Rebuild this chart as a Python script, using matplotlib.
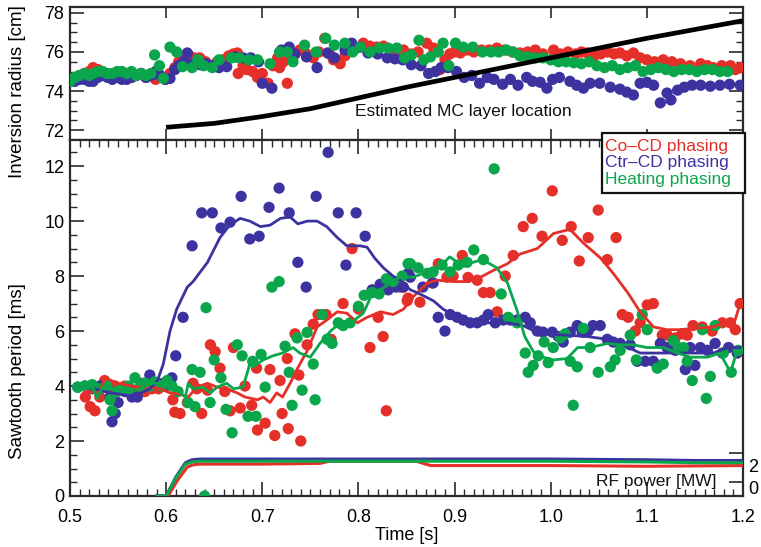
import numpy as np
import matplotlib
matplotlib.use("Agg")
import matplotlib.pyplot as plt
import matplotlib.transforms as mtrans
from matplotlib.patches import Rectangle
from matplotlib.ticker import MultipleLocator, FixedLocator

plt.rcParams['font.family'] = ['Liberation Sans', 'DejaVu Sans']

RED = '#e5302a'
BLUE = '#3d33a0'
GREEN = '#0aa64c'

# ---------------- Inversion radius (top panel) [t (s), r (cm)] ----------------
co_radius = [(0.500,74.5),(0.505,74.6),(0.510,74.8),(0.515,74.9),(0.520,75.0),(0.524,75.2),(0.529,75.1),(0.534,74.9),(0.539,74.8),(0.544,74.8),(0.549,74.7),(0.554,74.9),(0.559,74.8),(0.564,74.7),(0.569,74.8),(0.574,74.9),(0.579,74.7),(0.584,74.8),(0.589,74.6),(0.594,74.7),(0.599,74.6),
(0.604,74.9),(0.609,75.2),(0.613,75.5),(0.618,75.6),(0.624,75.8),(0.629,75.7),(0.635,75.7),(0.641,75.5),(0.647,75.3),(0.653,75.5),(0.659,75.6),(0.665,75.8),(0.670,75.9),(0.674,75.95),(0.675,74.9),(0.680,75.3),(0.684,75.1),(0.690,75.0),(0.695,74.7),(0.700,74.9),(0.706,74.4),(0.711,75.3),(0.716,75.7),(0.718,75.2),(0.722,75.5),(0.726,74.4),(0.729,75.7),(0.734,75.9),(0.739,76.1),(0.746,75.9),(0.753,75.7),(0.759,76.0),(0.765,76.7),(0.770,75.9),(0.774,75.6),(0.781,75.4),(0.786,75.8),(0.791,76.1),(0.798,76.2),(0.805,76.45),(0.812,76.3),(0.819,76.25),(0.826,76.3),(0.833,76.1),(0.840,76.0),(0.847,76.1),(0.855,75.9),(0.862,76.0),(0.871,76.45),(0.878,76.2),(0.885,75.1),(0.890,75.6),(0.895,75.9),(0.900,76.0),(0.906,75.95),(0.913,76.1),(0.920,76.0),(0.928,76.1),(0.936,76.1),(0.944,76.2),(0.952,76.1),(0.960,76.0),(0.968,75.95),(0.976,76.0),(0.984,76.1),(0.992,75.9),(1.003,76.1),(1.010,75.9),(1.018,76.0),(1.026,75.9),(1.032,76.0),(1.038,75.95),(1.045,75.8),(1.052,75.9),(1.059,76.0),(1.066,75.9),(1.072,75.95),(1.079,75.8),(1.086,75.95),(1.093,75.7),(1.100,75.6),(1.108,75.5),(1.117,75.6),(1.126,75.5),(1.135,75.4),(1.145,75.3),(1.156,75.4),(1.163,75.3),(1.169,75.2),(1.178,75.3),(1.187,75.3),(1.192,75.1),(1.197,75.2)]

ctr_radius = [(0.500,74.5),(0.505,74.5),(0.510,74.6),(0.515,74.6),(0.520,74.5),(0.524,74.5),(0.529,74.7),(0.534,74.8),(0.539,74.7),(0.544,74.6),(0.549,74.7),(0.554,74.6),(0.559,74.6),(0.564,74.7),(0.569,74.8),(0.574,74.9),(0.579,74.7),(0.584,74.8),(0.589,75.0),(0.594,74.8),(0.599,74.6),
(0.604,74.65),(0.609,75.1),(0.613,75.3),(0.618,75.5),(0.622,75.95),(0.627,75.4),(0.635,75.35),(0.642,75.4),(0.648,75.3),(0.655,75.2),(0.663,75.25),(0.672,75.75),(0.680,75.7),(0.688,75.7),(0.696,75.5),(0.700,74.4),(0.710,74.15),(0.720,76.1),(0.728,76.25),(0.734,75.9),(0.746,75.75),(0.757,75.2),(0.768,75.95),(0.775,75.7),(0.786,76.1),(0.793,76.45),(0.802,76.25),(0.810,75.95),(0.820,75.9),(0.830,75.7),(0.838,75.65),(0.846,75.6),(0.855,75.35),(0.865,75.3),(0.873,74.9),(0.880,75.0),(0.886,75.2),(0.893,75.2),(0.902,75.0),(0.910,74.7),(0.918,74.8),(0.926,74.4),(0.934,74.7),(0.941,74.6),(0.950,74.35),(0.958,74.6),(0.966,74.3),(0.975,74.7),(0.981,74.5),(0.989,74.45),(0.996,74.15),(1.002,74.6),(1.009,74.7),(1.020,74.5),(1.027,74.3),(1.034,74.15),(1.041,74.4),(1.051,74.4),(1.062,74.2),(1.072,74.1),(1.079,73.95),(1.086,73.8),(1.093,74.4),(1.100,74.45),(1.107,74.3),(1.114,73.4),(1.121,73.9),(1.125,73.55),(1.132,74.05),(1.139,74.2),(1.147,74.3),(1.156,74.3),(1.166,74.25),(1.176,74.3),(1.186,74.35),(1.197,74.3)]

heat_radius = [(0.500,74.5),(0.505,74.7),(0.510,74.8),(0.515,74.9),(0.520,74.8),(0.524,74.9),(0.529,75.0),(0.534,75.0),(0.539,74.9),(0.544,74.9),(0.549,75.0),(0.554,75.0),(0.559,74.9),(0.564,75.0),(0.569,74.8),(0.574,74.9),(0.579,74.8),(0.584,74.9),(0.588,75.85),(0.593,75.3),(0.597,74.65),(0.604,76.25),(0.611,76.0),(0.617,75.25),(0.627,75.2),(0.633,75.6),(0.639,75.3),(0.648,75.2),(0.655,75.6),(0.668,75.7),(0.676,75.7),(0.686,75.6),(0.695,75.6),(0.708,75.4),(0.718,76.0),(0.726,76.0),(0.732,75.5),(0.744,76.35),(0.756,76.0),(0.766,76.7),(0.775,76.35),(0.786,76.45),(0.794,76.0),(0.802,76.25),(0.812,76.0),(0.822,76.2),(0.831,76.2),(0.840,76.2),(0.848,75.7),(0.855,75.85),(0.863,76.6),(0.868,75.6),(0.875,75.75),(0.883,76.0),(0.888,76.45),(0.894,75.3),(0.901,76.45),(0.909,76.25),(0.919,76.25),(0.929,76.0),(0.938,76.0),(0.946,76.0),(0.954,76.1),(0.961,76.0),(0.968,75.8),(0.976,75.75),(0.984,75.7),(0.992,75.7),(1.000,75.6),(1.008,75.5),(1.016,75.5),(1.024,75.45),(1.032,75.4),(1.040,75.5),(1.048,75.3),(1.056,75.2),(1.064,75.3),(1.072,75.1),(1.080,75.2),(1.088,75.3),(1.096,75.0),(1.104,75.1),(1.112,75.2),(1.120,75.1),(1.128,75.0),(1.136,75.1),(1.144,75.1),(1.152,75.0),(1.160,75.1),(1.168,75.1),(1.176,75.0),(1.184,75.0)]

mc_time = [0.60, 0.65, 0.70, 0.75, 0.80, 0.85, 0.90, 0.95, 1.00, 1.05, 1.10, 1.15, 1.20]
mc_radius = [72.15, 72.35, 72.7, 73.1, 73.65, 74.2, 74.7, 75.2, 75.7, 76.2, 76.7, 77.15, 77.6]

# ---------------- Sawtooth period (bottom panel) [t (s), period (ms)] ----------------
co_period = [(0.516,3.6),(0.521,3.25),(0.526,3.1),(0.531,3.6),(0.536,4.2),(0.542,3.9),(0.547,4.0),(0.553,3.9),(0.557,4.0),(0.565,3.85),(0.573,3.85),(0.578,3.8),(0.585,3.9),(0.592,3.9),(0.597,4.1),(0.602,4.1),(0.607,3.5),(0.609,3.05),(0.6145,3.0),(0.622,3.4),(0.628,4.1),(0.632,3.9),(0.637,3.0),(0.643,3.85),(0.646,5.5),(0.651,5.25),(0.656,4.65),(0.661,3.8),(0.6665,3.1),(0.670,5.4),(0.677,3.2),(0.682,4.0),(0.689,3.3),(0.695,2.4),(0.694,4.65),(0.703,2.65),(0.708,4.6),(0.713,2.2),(0.7185,4.2),(0.7206,3.0),(0.727,2.45),(0.726,5.0),(0.734,5.9),(0.738,4.4),(0.740,2.0),(0.7466,5.5),(0.753,6.25),(0.758,6.6),(0.7664,6.6),(0.7716,5.7),(0.784,7.0),(0.7934,9.0),(0.800,6.8),(0.812,5.4),(0.8205,6.5),(0.8257,5.8),(0.829,3.1),(0.8434,7.6),(0.8465,7.6),(0.8507,7.1),(0.8517,7.2),(0.864,7.05),(0.8767,7.75),(0.883,8.45),(0.892,7.96),(0.8985,8.0),(0.908,8.75),(0.914,7.95),(0.9235,7.85),(0.930,7.4),(0.937,7.4),(0.9443,6.7),(0.9527,8.0),(0.961,8.75),(0.9714,9.8),(0.9808,10.1),(0.991,9.45),(1.0016,11.1),(1.012,9.3),(1.0213,9.8),(1.0297,8.55),(1.039,9.4),(1.0494,10.4),(1.0588,8.6),(1.068,9.4),(1.0744,6.6),(1.0806,6.5),(1.088,6.0),(1.0931,6.3),(1.1004,6.95),(1.1067,7.0),(1.116,5.85),(1.1212,5.85),(1.1296,5.75),(1.1368,5.9),(1.142,5.85),(1.148,6.2),(1.1577,6.15),(1.168,6.0),(1.1785,6.3),(1.1868,6.3),(1.192,6.05),(1.197,7.0)]

ctr_period = [(0.508,3.96),(0.5156,4.0),(0.523,3.9),(0.531,4.0),(0.5416,3.6),(0.5437,2.7),(0.547,3.0),(0.550,3.4),(0.557,3.8),(0.5645,3.6),(0.570,3.6),(0.576,4.1),(0.583,4.4),(0.5916,4.1),(0.599,4.0),(0.606,4.3),(0.610,5.1),(0.6176,6.5),(0.627,9.1),(0.637,10.3),(0.648,10.3),(0.657,9.75),(0.6665,9.96),(0.678,10.9),(0.687,9.35),(0.6967,9.45),(0.707,10.5),(0.7175,11.2),(0.728,10.3),(0.737,8.5),(0.7456,7.6),(0.756,10.9),(0.7685,12.5),(0.779,10.3),(0.787,8.4),(0.7976,10.3),(0.807,9.45),(0.8143,7.5),(0.8226,7.7),(0.831,7.5),(0.839,7.6),(0.8465,7.6),(0.8517,8.1),(0.854,7.96),(0.867,7.6),(0.8777,7.75),(0.883,6.5),(0.890,6.0),(0.8954,6.6),(0.9027,6.5),(0.909,6.4),(0.9162,6.3),(0.9235,6.3),(0.930,6.4),(0.935,6.6),(0.9423,6.3),(0.9506,6.4),(0.958,6.4),(0.965,6.4),(0.9735,6.5),(0.9787,6.3),(0.986,6.0),(0.992,5.96),(1.0016,5.96),(1.008,5.8),(1.013,5.6),(1.0203,5.96),(1.0276,6.2),(1.0328,5.96),(1.039,6.0),(1.044,6.2),(1.0515,6.2),(1.0588,5.7),(1.065,5.6),(1.0723,5.55),(1.0827,5.5),(1.090,4.9),(1.0983,4.9),(1.1067,4.9),(1.114,5.55),(1.121,5.4),(1.1296,5.3),(1.140,4.6),(1.145,5.4),(1.150,4.75),(1.1556,5.4),(1.163,5.3),(1.171,5.55),(1.1785,5.2),(1.185,5.4),(1.194,5.2)]

heat_period = [(0.508,3.96),(0.515,4.0),(0.523,4.05),(0.531,3.9),(0.5385,4.0),(0.5416,3.5),(0.5437,3.1),(0.549,3.8),(0.554,3.9),(0.561,4.0),(0.5676,4.3),(0.573,4.0),(0.578,4.1),(0.583,4.0),(0.588,4.15),(0.595,4.0),(0.601,4.2),(0.606,4.0),(0.6124,3.8),(0.6228,3.4),(0.627,4.6),(0.630,3.25),(0.6353,4.5),(0.640,0.0),(0.6415,6.85),(0.6457,3.4),(0.650,4.95),(0.657,4.3),(0.6623,3.15),(0.6686,2.3),(0.674,5.5),(0.679,5.1),(0.6852,2.9),(0.690,4.9),(0.6935,2.9),(0.6988,5.15),(0.703,3.96),(0.710,7.6),(0.7175,7.8),(0.7237,5.45),(0.728,4.5),(0.731,3.3),(0.7362,5.75),(0.7414,3.85),(0.7466,5.95),(0.753,4.8),(0.755,3.5),(0.7622,6.6),(0.7674,5.7),(0.7726,5.55),(0.779,6.3),(0.784,6.2),(0.7914,6.3),(0.800,6.9),(0.806,7.3),(0.8143,7.4),(0.8215,7.35),(0.829,7.9),(0.836,7.8),(0.8455,8.0),(0.8517,8.45),(0.854,8.45),(0.862,8.3),(0.8715,8.1),(0.8777,8.15),(0.887,8.4),(0.8954,8.15),(0.9037,8.4),(0.913,8.5),(0.920,8.95),(0.930,8.6),(0.9412,11.9),(0.9485,7.35),(0.9558,6.5),(0.965,6.3),(0.9735,5.2),(0.9766,4.5),(0.9818,4.75),(0.987,5.1),(0.9932,5.6),(0.9974,4.85),(1.0026,5.4),(1.010,5.75),(1.015,5.9),(1.0203,4.9),(1.0234,3.3),(1.0276,4.7),(1.0338,6.1),(1.041,5.4),(1.0494,4.5),(1.062,4.7),(1.067,4.95),(1.0723,5.3),(1.0827,5.85),(1.089,4.95),(1.0952,6.6),(1.1004,6.05),(1.1108,4.65),(1.117,4.8),(1.1275,5.65),(1.1327,5.4),(1.138,5.4),(1.142,4.9),(1.1472,4.2),(1.1577,6.05),(1.1618,3.55),(1.166,4.35),(1.171,6.2),(1.1795,5.2),(1.1878,4.5),(1.195,5.3)]

# smoothed sawtooth period traces
co_smooth = [(0.516,3.8),(0.531,3.75),(0.536,4.3),(0.550,4.1),(0.570,3.96),(0.583,3.96),(0.594,3.9),(0.604,3.75),(0.615,3.7),(0.623,3.6),(0.632,3.96),(0.643,4.1),(0.653,3.96),(0.663,3.9),(0.674,3.75),(0.682,3.6),(0.695,3.5),(0.701,3.6),(0.708,3.4),(0.715,3.75),(0.721,3.6),(0.729,4.1),(0.736,4.6),(0.747,5.3),(0.757,6.15),(0.767,6.4),(0.778,6.7),(0.788,6.65),(0.799,6.3),(0.809,6.5),(0.823,6.7),(0.836,6.6),(0.847,6.8),(0.857,7.25),(0.872,7.75),(0.882,7.85),(0.899,7.8),(0.913,7.8),(0.927,7.96),(0.940,8.2),(0.955,8.45),(0.968,8.8),(0.986,9.0),(1.003,9.55),(1.020,9.7),(1.034,9.2),(1.052,8.65),(1.065,8.1),(1.080,7.4),(1.093,6.7),(1.107,6.15),(1.121,6.05),(1.135,6.05),(1.148,6.1),(1.169,6.15),(1.180,6.3),(1.190,6.2),(1.197,7.0)]

ctr_smooth = [(0.508,4.0),(0.521,3.95),(0.536,3.8),(0.552,3.7),(0.568,3.65),(0.583,3.9),(0.591,4.2),(0.597,4.8),(0.604,6.0),(0.611,6.8),(0.622,7.6),(0.628,7.8),(0.643,8.5),(0.656,9.4),(0.666,9.85),(0.677,10.1),(0.687,10.0),(0.698,9.8),(0.708,9.85),(0.719,10.1),(0.729,10.15),(0.737,9.9),(0.747,10.0),(0.757,10.0),(0.767,9.8),(0.778,9.4),(0.788,9.1),(0.802,9.1),(0.809,9.05),(0.817,8.65),(0.826,8.3),(0.836,8.0),(0.843,7.85),(0.854,7.5),(0.861,7.4),(0.878,7.1),(0.888,6.8),(0.903,6.5),(0.916,6.4),(0.934,6.3),(0.955,6.3),(0.971,6.2),(0.989,5.9),(1.017,5.85),(1.038,5.8),(1.059,5.7),(1.075,5.5),(1.093,5.2),(1.114,5.2),(1.135,5.2),(1.156,5.2),(1.169,5.2),(1.184,5.4),(1.197,5.4)]

heat_smooth = [(0.507,4.0),(0.524,3.95),(0.528,3.55),(0.534,3.96),(0.549,3.85),(0.562,3.75),(0.576,3.96),(0.586,4.1),(0.601,4.1),(0.611,3.85),(0.620,3.6),(0.623,4.1),(0.628,3.9),(0.638,3.96),(0.646,3.75),(0.653,3.96),(0.663,4.1),(0.670,3.9),(0.680,3.96),(0.687,4.8),(0.690,4.7),(0.701,4.95),(0.711,5.1),(0.721,5.2),(0.732,5.4),(0.739,5.2),(0.750,5.05),(0.760,5.55),(0.771,6.0),(0.781,6.3),(0.794,6.35),(0.805,6.65),(0.815,7.4),(0.823,7.5),(0.833,7.75),(0.843,7.96),(0.857,7.96),(0.871,8.15),(0.885,8.35),(0.895,8.7),(0.909,8.35),(0.919,8.5),(0.929,8.6),(0.944,8.3),(0.955,7.75),(0.965,6.75),(0.973,5.8),(0.982,5.25),(0.992,5.05),(1.003,4.95),(1.017,5.0),(1.028,5.4),(1.041,5.4),(1.059,5.55),(1.072,5.5),(1.086,5.5),(1.100,5.4),(1.117,5.4),(1.132,5.2),(1.145,5.05),(1.163,5.05),(1.176,5.2),(1.187,4.5),(1.194,5.3),(1.200,5.25)]

# RF power [MW]
rf_co = [(0.590,0.0),(0.602,0.0),(0.612,1.1),(0.622,2.0),(0.628,2.15),(0.635,2.2),(0.700,2.2),(0.760,2.25),(0.770,2.4),(0.860,2.4),(0.875,2.1),(1.000,2.1),(1.100,2.05),(1.200,2.1)]
rf_ctr = [(0.590,0.0),(0.600,0.0),(0.610,1.3),(0.620,2.3),(0.627,2.5),(0.635,2.55),(0.700,2.55),(0.800,2.55),(0.900,2.55),(1.000,2.55),(1.100,2.5),(1.150,2.45),(1.200,2.45)]
rf_heat = [(0.590,0.0),(0.600,0.0),(0.610,1.25),(0.620,2.2),(0.627,2.35),(0.635,2.4),(0.700,2.4),(0.800,2.4),(0.900,2.4),(1.000,2.4),(1.100,2.35),(1.150,2.3),(1.200,2.3)]

legend_labels = ['Co\u2013CD phasing', 'Ctr\u2013CD phasing', 'Heating phasing']
x_ticks = [0.5, 0.6, 0.7, 0.8, 0.9, 1.0, 1.1, 1.2]
radius_ticks = [72, 74, 76, 78]
period_ticks = [0, 2, 4, 6, 8, 10, 12]

W, H = 761, 547
fig = plt.figure(figsize=(W/100, H/100), dpi=100)
FS = 13
SPC = '#2a2a2a'

def arr(p):
    a = np.array(p, dtype=float)
    return a[:, 0], a[:, 1]

ax1 = fig.add_axes([70/W, 1-140/H, 673/W, 133/H])
ax2 = fig.add_axes([70/W, 1-496/H, 673/W, 356/H])

for ax in (ax1, ax2):
    for s in ax.spines.values():
        s.set_linewidth(1.6)
        s.set_color(SPC)
    ax.set_xlim(0.5, 1.2)

ms = 66
# top panel
for data, c in ((co_radius, RED), (ctr_radius, BLUE), (heat_radius, GREEN)):
    t, v = arr(data)
    ax1.scatter(t, v, s=ms, color=c, edgecolors='none', zorder=3)
ax1.plot(mc_time, mc_radius, color='black', lw=3.4, zorder=4, solid_capstyle='butt')
ax1.text(0.909, 72.95, 'Estimated MC layer location', fontsize=12.5, ha='center', va='center', color='#111111')
ax1.set_ylim(71.5, 78.3)
ax1.set_yticks(radius_ticks)
ax1.yaxis.set_minor_locator(MultipleLocator(0.5))
ax1.set_xticks(x_ticks)
ax1.set_xticklabels([])
ax1.tick_params(axis='x', which='major', direction='in', length=8, width=1.2, top=True, bottom=True, color=SPC)
ax1.tick_params(axis='y', which='major', direction='in', length=10, width=1.2, left=True, right=True, labelsize=FS, color=SPC, pad=4)
ax1.tick_params(axis='y', which='minor', direction='in', length=5, width=1.0, left=True, right=True, color=SPC)

# bottom panel
for data, c in ((co_period, RED), (ctr_period, BLUE), (heat_period, GREEN)):
    t, v = arr(data)
    ax2.scatter(t, v, s=ms, color=c, edgecolors='none', zorder=3)
for data, c in ((co_smooth, RED), (ctr_smooth, BLUE), (heat_smooth, GREEN)):
    t, v = arr(data)
    ax2.plot(t, v, color=c, lw=2.0, zorder=4)
ax2.set_ylim(0, 12.95)
ax2.set_yticks(period_ticks)
ax2.yaxis.set_minor_locator(MultipleLocator(0.5))
ax2.set_xticks(x_ticks)
ax2.set_xticklabels(['%.1f' % x for x in x_ticks])
ax2.xaxis.set_minor_locator(MultipleLocator(0.01))
ax2.tick_params(axis='x', which='major', direction='in', length=10, width=1.2, top=True, bottom=True, labelsize=FS, color=SPC, pad=9)
ax2.tick_params(axis='x', which='minor', direction='in', length=5, width=1.0, top=True, bottom=True, color=SPC)
ax2.tick_params(axis='y', which='major', direction='in', length=10, width=1.2, left=True, right=False, labelsize=FS, color=SPC, pad=4)
ax2.tick_params(axis='y', which='minor', direction='in', length=5, width=1.0, left=True, right=False, color=SPC)
ax2.set_xlabel('Time [s]', fontsize=FS, labelpad=1)

# RF power on right axis
ax3 = ax2.twinx()
ax3.set_ylim(0, 12.95*27.5/14.5)
ax3.set_xlim(0.5, 1.2)
for data, c in ((rf_co, RED), (rf_ctr, BLUE), (rf_heat, GREEN)):
    t, v = arr(data)
    ax3.plot(t, v, color=c, lw=2.2, zorder=5)
ax3.yaxis.set_major_locator(FixedLocator([1, 3]))
ax3.set_yticklabels([])
ax3.tick_params(axis='y', which='major', direction='in', length=10, width=1.2, right=True, color=SPC)
for s in ax3.spines.values():
    s.set_visible(False)
tr = mtrans.blended_transform_factory(ax3.transAxes, ax3.transData)
ax3.text(1.008, 2.0, '2', transform=tr, fontsize=FS, ha='left', va='center')
ax3.text(1.008, 0.45, '0', transform=tr, fontsize=FS, ha='left', va='center')
ax3.text(1.172, 1.0, 'RF power [MW]', fontsize=12.5, ha='right', va='center', color='#111111')

# y labels
fig.text(18/W, 1-92/H, 'Inversion radius [cm]', rotation=90, ha='center', va='center', fontsize=13.5)
fig.text(18/W, 1-371/H, 'Sawtooth period [ms]', rotation=90, ha='center', va='center', fontsize=13.5)

# legend box
fig.patches.append(Rectangle((602/W, 1-193/H), 143/W, 60/H, transform=fig.transFigure,
                             facecolor='white', edgecolor='#111111', lw=1.6, zorder=10))
for lab, c, yb in zip(legend_labels, (RED, BLUE, GREEN), (150.5, 167, 183.5)):
    fig.text(605/W, 1-yb/H, lab, color=c, fontsize=12.5, ha='left', va='baseline', zorder=11)

fig.savefig('out.png', dpi=100)
